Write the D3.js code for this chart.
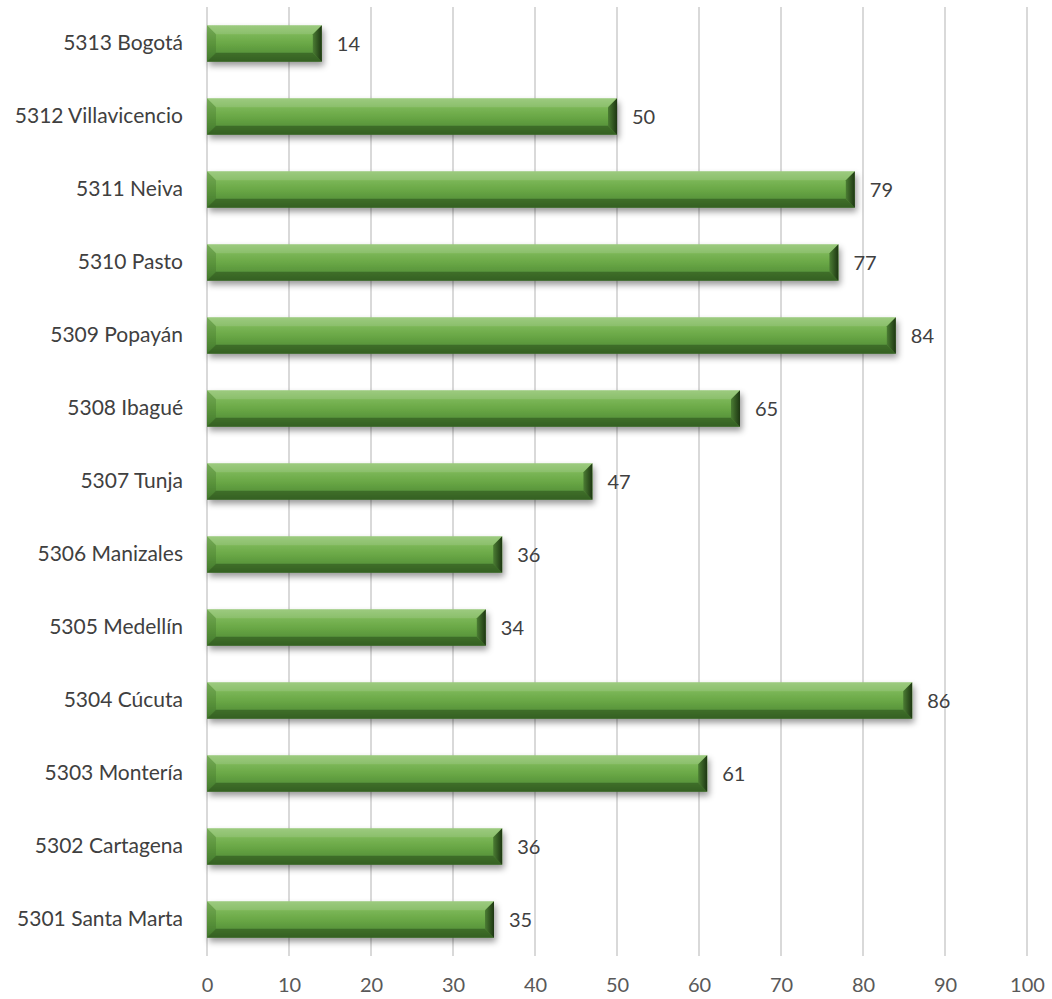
<!DOCTYPE html>
<html>
<head>
<meta charset="utf-8">
<script src="https://cdn.jsdelivr.net/npm/d3@7"></script>
<style>
  body { margin: 0; background: #fff; }
  text { font-family: Lato, "Open Sans", sans-serif; }
</style>
</head>
<body>
<div id="graph"></div>
<script>

var categories = ["5313 Bogotá", "5312 Villavicencio", "5311 Neiva", "5310 Pasto", "5309 Popayán",
    "5308 Ibagué", "5307 Tunja", "5306 Manizales", "5305 Medellín", "5304 Cúcuta",
    "5303 Montería", "5302 Cartagena", "5301 Santa Marta"];
var values = [14, 50, 79, 77, 84, 65, 47, 36, 34, 86, 61, 36, 35];
var xTicks = [0, 10, 20, 30, 40, 50, 60, 70, 80, 90, 100];

var width = 1052, height = 999;
var margin = {top: 7, right: 25, bottom: 43, left: 207};

var svg = d3.select("#graph").append("svg")
    .attr("width", width)
    .attr("height", height);

// gradients + shadow
var defs = svg.append("defs");
var grad = defs.append("linearGradient")
    .attr("id", "barGrad")
    .attr("x1", 0).attr("y1", 0).attr("x2", 0).attr("y2", 1);
grad.append("stop").attr("offset", "0%").attr("stop-color", "#8fc46e");
grad.append("stop").attr("offset", "25%").attr("stop-color", "#7bb657");
grad.append("stop").attr("offset", "50%").attr("stop-color", "#6aa846");
grad.append("stop").attr("offset", "80%").attr("stop-color", "#56923a");
grad.append("stop").attr("offset", "100%").attr("stop-color", "#477c2f");

var rgrad = defs.append("linearGradient")
    .attr("id", "endGrad")
    .attr("x1", 0).attr("y1", 0).attr("x2", 1).attr("y2", 0);
rgrad.append("stop").attr("offset", "0%").attr("stop-color", "#4b7d33");
rgrad.append("stop").attr("offset", "100%").attr("stop-color", "#1d3612");

var filt = defs.append("filter").attr("id", "shadow")
    .attr("x", "-5%").attr("y", "-20%").attr("width", "115%").attr("height", "170%");
filt.append("feDropShadow")
    .attr("dx", 2).attr("dy", 4).attr("stdDeviation", 3)
    .attr("flood-color", "#000").attr("flood-opacity", 0.4);

var xScale = d3.scaleLinear()
    .domain([0, 100])
    .range([margin.left, width - margin.right]);

var yScale = d3.scaleBand()
    .domain(categories)
    .range([margin.top, height - margin.bottom])
    .paddingInner(0.5)
    .paddingOuter(0.25);

// gridlines
svg.append("g")
    .selectAll("line")
    .data(xTicks)
    .enter().append("line")
    .attr("x1", function(d) { return xScale(d); })
    .attr("x2", function(d) { return xScale(d); })
    .attr("y1", margin.top)
    .attr("y2", height - margin.bottom)
    .attr("stroke", "#d9d9d9")
    .attr("stroke-width", 2);

// x axis labels
svg.append("g")
    .attr("transform", "translate(0," + (height - margin.bottom) + ")")
    .call(d3.axisBottom(xScale).tickValues(xTicks).tickSize(0).tickPadding(22))
    .call(function(g) { g.select(".domain").remove(); })
    .selectAll("text")
    .attr("font-size", 20)
    .attr("fill", "#595959")
    .style("font-family", "Lato, sans-serif");

// y axis labels
svg.append("g")
    .attr("transform", "translate(" + margin.left + ",0)")
    .call(d3.axisLeft(yScale).tickSize(0).tickPadding(24))
    .call(function(g) { g.select(".domain").remove(); })
    .selectAll("text")
    .attr("font-size", 21)
    .attr("fill", "#404040")
    .style("font-family", "Lato, sans-serif");

var bev = 9;
var bh = yScale.bandwidth();

var bars = svg.append("g").selectAll("g")
    .data(values)
    .enter().append("g")
    .attr("transform", function(d, i) { return "translate(" + xScale(0) + "," + yScale(categories[i]) + ")"; });

bars.append("rect")
    .attr("width", function(d) { return xScale(d) - xScale(0); })
    .attr("height", bh)
    .attr("fill", "url(#barGrad)")
    .attr("filter", "url(#shadow)");

// bevels: top, bottom, left, right
bars.append("polygon")
    .attr("points", function(d) {
        var w = xScale(d) - xScale(0);
        return [[0, 0], [w, 0], [w - bev, bev], [bev, bev]].join(" ");
    })
    .attr("fill", "#ffffff").attr("opacity", 0.12);
bars.append("polygon")
    .attr("points", function(d) {
        var w = xScale(d) - xScale(0);
        return [[0, bh], [w, bh], [w - bev, bh - bev], [bev, bh - bev]].join(" ");
    })
    .attr("fill", "#1f3d12").attr("opacity", 0.45);
bars.append("polygon")
    .attr("points", [[0, 0], [bev, bev], [bev, bh - bev], [0, bh]].join(" "))
    .attr("fill", "#2f5a1e").attr("opacity", 0.25);
bars.append("polygon")
    .attr("points", function(d) {
        var w = xScale(d) - xScale(0);
        return [[w, 0], [w - bev, bev], [w - bev, bh - bev], [w, bh]].join(" ");
    })
    .attr("fill", "url(#endGrad)");

// value labels
svg.append("g").selectAll("text")
    .data(values)
    .enter().append("text")
    .attr("x", function(d) { return xScale(d) + 15; })
    .attr("y", function(d, i) { return yScale(categories[i]) + bh / 2; })
    .attr("dy", "0.35em")
    .attr("font-size", 20)
    .attr("fill", "#404040")
    .text(function(d) { return d; });

</script>
</body>
</html>
